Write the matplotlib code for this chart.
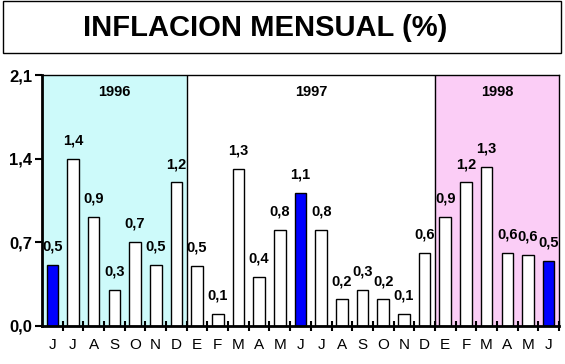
#!/usr/bin/python
import numpy as np
import matplotlib
matplotlib.use('Agg')
import matplotlib.pyplot as plt
from matplotlib.patches import Rectangle

# Monthly inflation, Jun 1996 .. Jun 1998
months = ['J', 'J', 'A', 'S', 'O', 'N', 'D',
          'E', 'F', 'M', 'A', 'M', 'J', 'J', 'A', 'S', 'O', 'N', 'D',
          'E', 'F', 'M', 'A', 'M', 'J']
inflation = [0.51, 1.40, 0.91, 0.30, 0.70, 0.51, 1.20,
             0.50, 0.10, 1.31, 0.41, 0.80, 1.11, 0.80, 0.22, 0.30, 0.22,
             0.10, 0.61,
             0.91, 1.20, 1.33, 0.61, 0.59, 0.54]
labels = ['0,5', '1,4', '0,9', '0,3', '0,7', '0,5', '1,2',
          '0,5', '0,1', '1,3', '0,4', '0,8', '1,1', '0,8', '0,2', '0,3', '0,2',
          '0,1', '0,6',
          '0,9', '1,2', '1,3', '0,6', '0,6', '0,5']
highlight = [0, 12, 24]  # the June bars
years = ['1996', '1997', '1998']
months_per_year = [7, 12, 6]
yticks = [0.0, 0.7, 1.4, 2.1]
ytick_labels = ['0,0', '0,7', '1,4', '2,1']


def main():
    fig = plt.figure(figsize=(5.65, 3.64), dpi=100)
    bold = dict(family=['Liberation Sans', 'DejaVu Sans'], weight='bold')

    # title box
    fig.patches.append(Rectangle((3 / 565, 1 - 53 / 364), 558 / 565, 52 / 364,
                                 transform=fig.transFigure, fill=False,
                                 edgecolor='black', linewidth=1))
    fig.text(265 / 565, 1 - 28 / 364, 'INFLACION MENSUAL (%)', ha='center',
             va='center', fontsize=21, **bold)

    ax = fig.add_axes((42 / 565, 38.3 / 364, 517 / 565, 250.7 / 364))
    x = np.arange(len(months))

    # year background bands
    edges = np.concatenate(([0], np.cumsum(months_per_year))) - 0.5
    shades = ['#cdfafa', 'white', '#fbcdf6']
    for i, yr in enumerate(years):
        ax.axvspan(edges[i], edges[i + 1], color=shades[i], zorder=0)
        ax.text((edges[i] + edges[i + 1]) / 2, 1.96, yr, ha='center',
                va='center', fontsize=10.5, **bold)
    for e in edges[1:-1]:
        ax.axvline(e, color='black', linewidth=1, zorder=1)

    colors = ['#0000ff' if i in highlight else 'white' for i in x]
    ax.bar(x, inflation, width=0.56, color=colors, edgecolor='black',
           linewidth=1, zorder=2)
    for xi, v, lab in zip(x, inflation, labels):
        ax.text(xi, v + 0.095, lab, ha='center', va='bottom', fontsize=10.5,
                **bold)

    ax.set_xlim(-0.5, len(months) - 0.5)
    ax.set_ylim(0, 2.1)
    ax.set_yticks(yticks)
    ax.set_yticklabels(ytick_labels, fontsize=12, **bold)
    ax.set_xticks(x + 0.5)
    ax.set_xticklabels([])
    ax.set_xticks(x, minor=True)
    ax.set_xticklabels(months, minor=True, fontsize=11,
                       family='Liberation Sans')
    ax.tick_params(axis='x', which='major', direction='inout', length=7,
                   width=1.5)
    ax.tick_params(axis='x', which='minor', length=0, pad=9)
    ax.tick_params(axis='y', direction='out', length=5, width=1.5, pad=2)

    for side in ('left', 'bottom'):
        ax.spines[side].set_linewidth(2)
    for side in ('top', 'right'):
        ax.spines[side].set_linewidth(1)

    fig.savefig('out.png', dpi=100)


main()
